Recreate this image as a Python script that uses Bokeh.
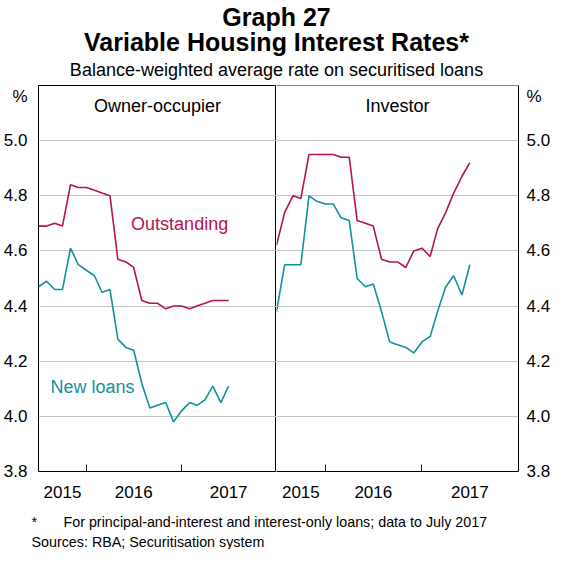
import pandas as pd
from bokeh.plotting import figure
from bokeh.layouts import column, row
from bokeh.models import (FixedTicker, DatetimeTickFormatter, Label, Range1d, Span,
                          NumeralTickFormatter, ColumnDataSource)
from bokeh.embed import file_html
from bokeh.resources import INLINE
from bokeh.core.properties import value

# ---------------- data ----------------
months = pd.date_range("2015-07-01", "2017-07-01", freq="MS")

owner_outstanding = [4.69, 4.69, 4.70, 4.69, 4.84, 4.83, 4.83, 4.82, 4.81, 4.80,
                     4.57, 4.56, 4.54, 4.42, 4.41, 4.41, 4.39, 4.40, 4.40, 4.39,
                     4.40, 4.41, 4.42, 4.42, 4.42]
owner_new = [4.47, 4.49, 4.46, 4.46, 4.61, 4.55, 4.53, 4.51, 4.45, 4.46,
             4.28, 4.25, 4.24, 4.12, 4.03, 4.04, 4.05, 3.98, 4.02, 4.05,
             4.04, 4.06, 4.11, 4.05, 4.11]
investor_outstanding = [4.62, 4.74, 4.80, 4.79, 4.95, 4.95, 4.95, 4.95, 4.94, 4.94,
                        4.71, 4.70, 4.69, 4.57, 4.56, 4.56, 4.54, 4.60, 4.61, 4.58,
                        4.68, 4.74, 4.81, 4.87, 4.92]
investor_new = [4.38, 4.55, 4.55, 4.55, 4.80, 4.78, 4.77, 4.77, 4.72, 4.71,
                4.50, 4.47, 4.48, 4.38, 4.27, 4.26, 4.25, 4.23, 4.27, 4.29,
                4.38, 4.47, 4.51, 4.44, 4.55]

panel_titles = ["Owner-occupier", "Investor"]
series_names = ["Outstanding", "New loans"]
y_ticks = [3.8, 4.0, 4.2, 4.4, 4.6, 4.8, 5.0]
grid_ticks = [4.0, 4.2, 4.4, 4.6, 4.8, 5.0]
unit_tick = 5.161           # position of the "%" unit label
year_label_dates = ["2015-10-01", "2016-07-01", "2017-07-01"]
year_boundaries = ["2016-01-01", "2017-01-01"]
x_start, x_end = "2015-07-01", "2018-01-01"
y_start, y_end = 3.8, 5.2

title1 = "Graph 27"
title2 = "Variable Housing Interest Rates*"
subtitle = "Balance-weighted average rate on securitised loans"
foot_star = "*"
foot_text = "For principal-and-interest and interest-only loans; data to July 2017"
sources = "Sources: RBA; Securitisation system"

# ---------------- style ----------------
FONT = "Liberation Sans"
RED = "#b5134d"
TEAL = "#13909c"
GRID = "#c4c4c4"
FRAME_W = 245
FRAME_H = 386
TOP_H = 84
FOOT_H = 42


def ms(d):
    return pd.Timestamp(d).value // 10**6


def panel(name, outstanding, new, side):
    left = side == "left"
    p = figure(width=(31 if left else 32) + FRAME_W, height=1 + FRAME_H + 36,
               x_axis_type="datetime",
               x_range=Range1d(pd.Timestamp(x_start), pd.Timestamp(x_end)),
               y_range=Range1d(y_start, y_end),
               y_axis_location=side, output_backend="svg", toolbar_location=None,
               min_border_top=1, min_border_bottom=36,
               min_border_left=31 if left else 0,
               min_border_right=0 if left else 32)
    p.background_fill_color = "white"
    p.border_fill_color = "white"
    if left:
        p.outline_line_color = "black"
        p.outline_line_width = 1
    else:
        p.outline_line_color = None
        p.add_layout(Span(location=y_end, dimension="width", line_color="black",
                          line_width=1))

    src = ColumnDataSource(dict(x=months, out=outstanding, new=new))
    p.line("x", "out", source=src, line_color=RED, line_width=1.6)
    p.line("x", "new", source=src, line_color=TEAL, line_width=1.6)

    yax = p.yaxis[0]
    yax.ticker = FixedTicker(ticks=y_ticks + [unit_tick])
    yax.formatter = NumeralTickFormatter(format="0.0")
    yax.major_label_overrides = {unit_tick: "%"}
    yax.major_tick_line_color = None
    yax.minor_tick_line_color = None
    yax.axis_line_color = None if left else "black"
    yax.major_label_standoff = 5 if left else 2
    yax.major_label_text_font = FONT
    yax.major_label_text_font_size = "17px"
    yax.major_label_text_color = "black"

    xax = p.xaxis[0]
    xax.ticker = FixedTicker(ticks=[ms(d) for d in year_label_dates],
                             minor_ticks=[ms(d) for d in year_boundaries])
    fmt = "%Y"
    xax.formatter = DatetimeTickFormatter(
        microseconds=fmt, milliseconds=fmt, seconds=fmt, minsec=fmt, minutes=fmt,
        hourmin=fmt, hours=fmt, days=fmt, months=fmt, years=fmt)
    xax.major_tick_line_color = None
    xax.minor_tick_line_color = "black"
    xax.minor_tick_in = 7
    xax.minor_tick_out = 0
    xax.axis_line_color = None if left else "black"
    xax.major_label_standoff = 8
    xax.major_label_text_font = FONT
    xax.major_label_text_font_size = "17px"
    xax.major_label_text_color = "black"

    p.xgrid.visible = False
    p.ygrid.ticker = FixedTicker(ticks=grid_ticks)
    p.ygrid.grid_line_color = GRID
    p.ygrid.grid_line_width = 1

    mid = pd.Timestamp(x_start) + (pd.Timestamp(x_end) - pd.Timestamp(x_start)) / 2
    p.add_layout(Label(x=mid, y=5.125, text=name, text_align="center",
                       text_baseline="middle", text_font=FONT,
                       text_font_size="18px", text_color="black"))
    return p


left = panel(panel_titles[0], owner_outstanding, owner_new, "left")
right = panel(panel_titles[1], investor_outstanding, investor_new, "right")

left.add_layout(Label(x=pd.Timestamp("2016-06-21"), y=4.697, text=series_names[0],
                      text_align="left", text_baseline="middle", text_font=FONT,
                      text_font_size="18px", text_color=RED))
left.add_layout(Label(x=pd.Timestamp("2015-08-16"), y=4.108, text=series_names[1],
                      text_align="left", text_baseline="middle", text_font=FONT,
                      text_font_size="18px", text_color=TEAL))


def blank(h):
    f = figure(width=553, height=h, x_range=Range1d(0, 553), y_range=Range1d(0, h),
               x_axis_location=None, y_axis_location=None, output_backend="svg",
               toolbar_location=None, min_border=0)
    f.outline_line_color = None
    f.grid.visible = False
    f.background_fill_color = "white"
    f.border_fill_color = "white"
    return f


def put(f, x, y_from_top, text, size, align="left", bold=False):
    f.text(x=[x], y=[f.height - y_from_top], text=[text], text_font=value(FONT),
           text_font_style="bold" if bold else "normal", text_font_size=size,
           text_align=align, text_baseline="middle", text_color="black")


top = blank(TOP_H)
put(top, 276, 16.5, title1, "25px", "center", True)
put(top, 276, 41, title2, "25px", "center", True)
put(top, 276, 69, subtitle, "18px", "center")

foot = blank(FOOT_H)
put(foot, 31, 14, foot_star, "14.3px")
put(foot, 63, 14, foot_text, "14.3px")
put(foot, 31, 34, sources, "14.3px")

layout = column(top, row(left, right), foot)
open("out.html", "w").write(file_html(layout, INLINE))
